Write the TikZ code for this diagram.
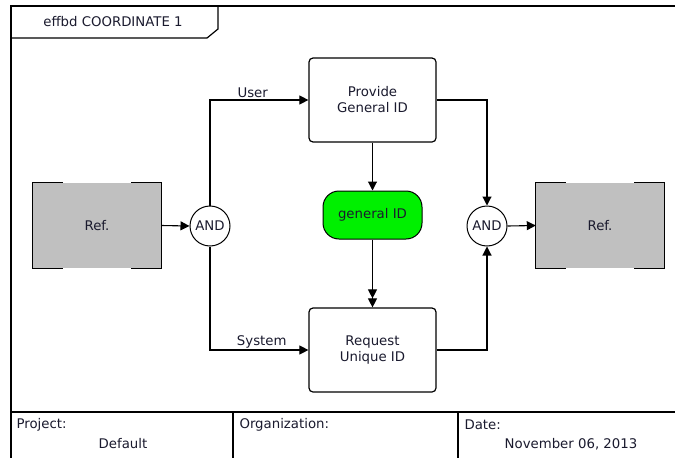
\documentclass[tikz,border=0pt]{standalone}
\usepackage{fontspec}
\setmainfont{DejaVu Sans}
\usetikzlibrary{arrows.meta,positioning,calc}
\definecolor{refgray}{HTML}{C0C0C0}
\definecolor{idgreen}{HTML}{00F000}
\definecolor{txt}{HTML}{1A1A2E}
\tikzset{
  every node/.style={font=\fontsize{13.3}{16}\selectfont, text=txt},
  func/.style={draw, line width=1.2pt, rounded corners=4pt, minimum width=127pt, minimum height=84pt, align=center, fill=white},
  refbox/.style={fill=refgray, minimum width=128pt, minimum height=85pt, inner sep=0pt},
  andgate/.style={circle, draw, line width=1pt, minimum size=40pt, inner sep=0pt, fill=white},
  item/.style={draw, line width=1pt, fill=idgreen, rounded corners=16pt, minimum width=99pt, minimum height=48pt},
  flow/.style={line width=1.1pt, -{Triangle[length=9pt,width=9pt]}},
  dflow/.style={line width=1.1pt, -{Triangle[length=9pt,width=9pt]Triangle[length=9pt,width=9pt]}},
  frame/.style={line width=2.2pt},
  lbl/.style={inner sep=1.5pt}
}
\begin{document}
\begin{tikzpicture}[x=1pt,y=-1pt]
\useasboundingbox (0,0) rectangle (675,458);
\clip (0,0) rectangle (675,458);
\fill[white] (0,0) rectangle (675,458);

% outer frame and title tab
\draw[frame] (11,470) -- (11,6) -- (690,6);
\draw[line width=1.2pt] (11,38) -- (207,38) -- (218,29) -- (218,6);
\node (title) at (113,22) {effbd COORDINATE 1};

% footer table
\draw[frame] (11,412) -- (690,412);
\draw[frame] (233,412) -- (233,470);
\draw[frame] (458,412) -- (458,470);
\node[anchor=west] (proj) at (13,425) {Project:};
\node (projv) at (123,444) {Default};
\node[anchor=west] (org) at (236,425) {Organization:};
\node[anchor=west] (date) at (461,425) {Date:};
\node (datev) at (571,444) {November 06, 2013};

% reference blocks
\node[refbox] (refL) at (97,225.5) {Ref.};
\node[refbox] (refR) at (600,225.5) {Ref.};
\foreach \r in {refL,refR}{
  \draw[line width=1.3pt]
    ($(\r.north west)+(30,0)$) -- (\r.north west) -- (\r.south west) -- ($(\r.south west)+(30,0)$)
    ($(\r.north east)+(-30,0)$) -- (\r.north east) -- (\r.south east) -- ($(\r.south east)+(-30,0)$);
}

% functions and item
\node[func] (prov) at (372.5,100) {Provide\\General ID};
\node[func] (req) at (372.5,350) {Request\\Unique ID};
\node[item] (gid) at (372.5,215) {general ID};

% AND gates
\node[andgate] (andL) at (210,226) {AND};
\node[andgate] (andR) at (487,226) {AND};

% connectors
\draw[flow] (refL.east) -- (andL.west);
\draw[flow] (andL.north) |- node[lbl, pos=0.717, above] {User} (prov.west);
\draw[flow] (andL.south) |- node[lbl, pos=0.763, above] {System} (req.west);
\draw[flow] (prov.south) -- (gid.north);
\draw[dflow] (gid.south) -- (req.north);
\draw[flow] (prov.east) -| (andR.north);
\draw[flow] (req.east) -| (andR.south);
\draw[flow] (andR.east) -- (refR.west);
\end{tikzpicture}
\end{document}
